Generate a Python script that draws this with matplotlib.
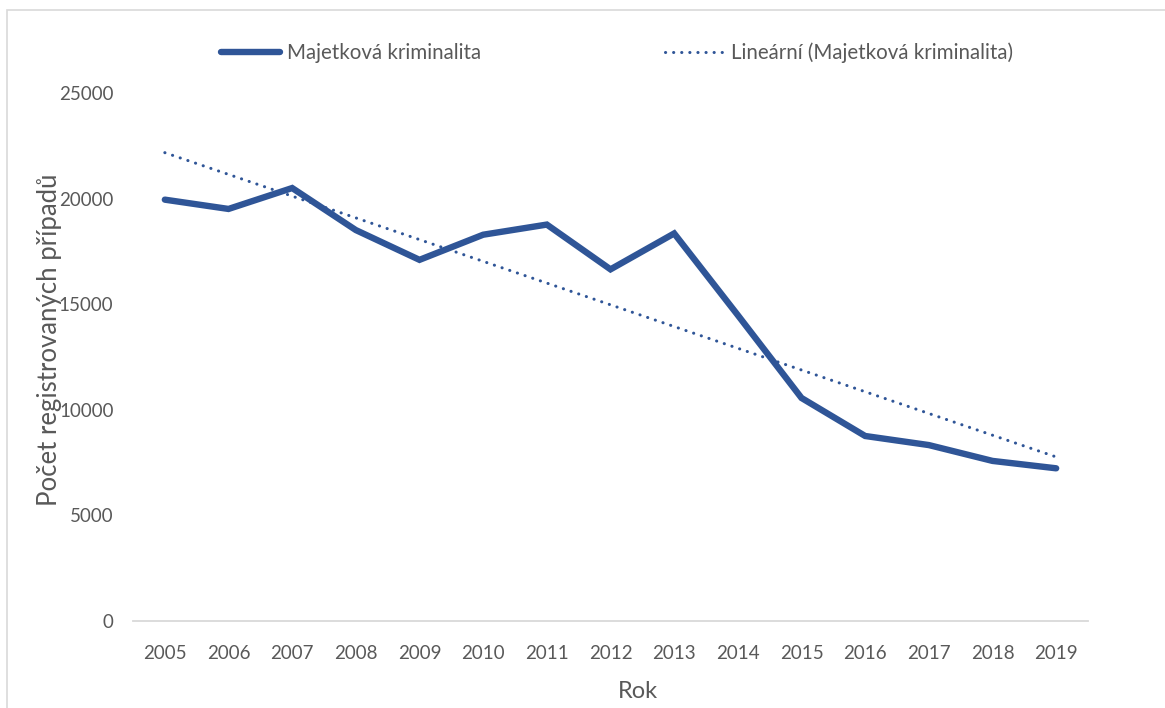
import matplotlib.pyplot as plt
import numpy as np
from matplotlib.lines import Line2D
from matplotlib.patches import Rectangle

plt.rcParams["font.family"] = ["Lato", "DejaVu Sans"]

# data
years = ["2005", "2006", "2007", "2008", "2009", "2010", "2011", "2012",
         "2013", "2014", "2015", "2016", "2017", "2018", "2019"]
crimes = [19950, 19510, 20500, 18510, 17100, 18290, 18770, 16650,
          18350, 14480, 10560, 8760, 8330, 7580, 7230]
series_label = "Majetková kriminalita"
trend_label = "Lineární (Majetková kriminalita)"
y_ticks = [0, 5000, 10000, 15000, 20000, 25000]

BLUE = "#2F5597"
TEXT = "#595959"
GRID = "#D9D9D9"
W, H = 1165, 708


def main() -> None:
    fig = plt.figure(figsize=(W / 100, H / 100), dpi=100)
    ax = fig.add_axes([133 / W, 1 - 621 / H, (1088 - 133) / W, (621 - 93) / H])

    x = np.arange(len(years))
    y = np.array(crimes, dtype=float)

    # Excel style linear trendline: least squares fit of the series
    k, q = np.polyfit(x, y, 1)
    trend = k * x + q

    ax.plot(x, trend, color=BLUE, lw=2.2, linestyle=(0, (0.05, 2.6)),
            dash_capstyle="round", zorder=2)
    ax.plot(x, y, color=BLUE, lw=4.6, solid_capstyle="round",
            solid_joinstyle="miter", zorder=3)

    ax.set_xlim(-0.5, len(years) - 0.5)
    ax.set_ylim(0, 25000)
    ax.set_xticks(x)
    ax.set_xticklabels(years)
    ax.set_yticks(y_ticks)
    ax.set_yticklabels([str(v) for v in y_ticks])
    ax.tick_params(axis="both", length=0, labelsize=13.5, colors=TEXT)
    ax.tick_params(axis="x", pad=17)
    ax.tick_params(axis="y", pad=14)

    for side in ["top", "right", "left"]:
        ax.spines[side].set_visible(False)
    ax.spines["bottom"].set_color(GRID)
    ax.spines["bottom"].set_linewidth(1.3)

    fig.text(50 / W, 1 - 340 / H, "Počet registrovaných případů", rotation=90,
             ha="center", va="center", fontsize=18.5, color=TEXT)
    fig.text(638 / W, 1 - 691 / H, "Rok", ha="center", va="center",
             fontsize=17, color=TEXT)

    handles = [
        Line2D([], [], color=BLUE, lw=4.6, solid_capstyle="round"),
        Line2D([], [], color=BLUE, lw=2.2, linestyle=(0, (0.05, 2.6)),
               dash_capstyle="round"),
    ]
    leg = fig.legend(handles, [series_label, trend_label], ncol=2, loc="center",
                     bbox_to_anchor=(617 / W, 1 - 53 / H), frameon=False,
                     fontsize=14.8, handlelength=2.9, handletextpad=0.35,
                     columnspacing=8.9)
    for t in leg.get_texts():
        t.set_color(TEXT)

    # thin chart-area border, cut off by the image at right and bottom
    fig.patches.append(Rectangle((7 / W, -0.1), 1.2, 1.1 - 10 / H, fill=False,
                                 edgecolor=GRID, lw=1.2,
                                 transform=fig.transFigure, figure=fig))

    fig.savefig("out.png", dpi=100)
    plt.close(fig)


if __name__ == "__main__":
    main()
